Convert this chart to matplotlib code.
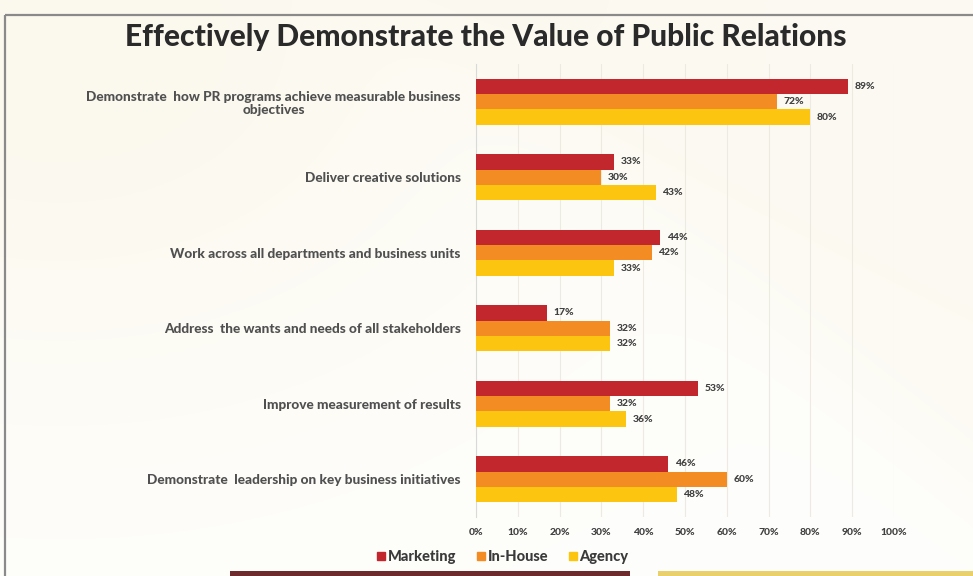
import numpy as np
import matplotlib
matplotlib.use("Agg")
import matplotlib.pyplot as plt
from matplotlib.patches import Rectangle
from matplotlib.lines import Line2D

# Survey data (share of respondents)
categories = [
    "Demonstrate  how PR programs achieve measurable business\nobjectives",
    "Deliver creative solutions",
    "Work across all departments and business units",
    "Address  the wants and needs of all stakeholders",
    "Improve measurement of results",
    "Demonstrate  leadership on key business initiatives",
]
marketing = [89, 33, 44, 17, 53, 46]
in_house = [72, 30, 42, 32, 32, 60]
agency = [80, 43, 33, 32, 36, 48]
series_names = ["Marketing", "In-House", "Agency"]
x_ticks = [0, 10, 20, 30, 40, 50, 60, 70, 80, 90, 100]

colors = ["#c1272d", "#f28c23", "#fcc510"]
text_dark = "#404040"
FONT = "Lato"

W, H = 973, 576
fig = plt.figure(figsize=(W / 100, H / 100), dpi=100)

# Soft cream slide background
bg = fig.add_axes([0, 0, 1, 1], zorder=-10)
yy, xx = np.mgrid[0:H, 0:W].astype(float)
base = np.array([254, 254, 252]) / 255.0
cream = np.array([251, 247, 234]) / 255.0
light = np.array([252, 250, 242]) / 255.0
corner = np.exp(-(((xx - 60) / 520) ** 2 + ((yy - 40) / 380) ** 2))
# upper-right region, separated by a soft diagonal
d = ((xx - 470) * 420 - (yy - 60) * 500) / np.hypot(420, 500)
upper = 1 / (1 + np.exp(-d / 30))
img = base[None, None, :] * np.ones((H, W, 1))
img = img + (light - base)[None, None, :] * upper[..., None]
img = img + (cream - img) * corner[..., None] * 0.8
bg.imshow(img, extent=[0, W, H, 0], aspect="auto", interpolation="bilinear")
bg.set_xlim(0, W)
bg.set_ylim(H, 0)
bg.axis("off")

# slide frame and footer strips
bg.plot([5, W], [15, 15], color="#8a8a8a", lw=1.6, solid_capstyle="butt")
bg.plot([5, 5], [15, H], color="#8a8a8a", lw=1.6, solid_capstyle="butt")
bg.add_patch(Rectangle((230, 571), 400, 6, color="#6e2b2e", lw=0))
bg.add_patch(Rectangle((658, 571), 315, 6, color="#ead06a", lw=0))

fig.text(486 / W, 1 - 37 / H, "Effectively Demonstrate the Value of Public Relations",
         ha="center", va="center", fontsize=21.5, fontweight="black",
         family=FONT, color="#2a2a2a")

ax = fig.add_axes([476 / W, 1 - 517 / H, 418 / W, 453 / H])
ax.patch.set_alpha(0)

y = np.arange(len(categories))
bh = 0.205
for k, (vals, name) in enumerate(zip([marketing, in_house, agency], series_names)):
    pos = y + (k - 1) * bh
    ax.barh(pos, vals, height=bh, color=colors[k], label=name, zorder=3)
    for p, v in zip(pos, vals):
        ax.text(v + 1.6, p, f"{v}%", ha="left", va="center", fontsize=7.5,
                fontweight="black", family=FONT, color=text_dark, zorder=4)

ax.set_xlim(0, 100)
ax.set_ylim(len(categories) - 0.5, -0.5)
ax.set_xticks(x_ticks)
ax.set_xticklabels([f"{t}%" for t in x_ticks], fontsize=7.5, fontweight="black",
                   family=FONT, color=text_dark)
ax.tick_params(axis="x", length=0, pad=8)
ax.set_yticks(y)
ax.set_yticklabels(categories, fontsize=9.8, fontweight="black", family=FONT,
                   color="#505050", multialignment="center", linespacing=1.15)
ax.tick_params(axis="y", length=0, pad=11)
ax.grid(axis="x", color="#edeae2", lw=0.8, zorder=0)
for s in ["top", "right", "bottom"]:
    ax.spines[s].set_visible(False)
ax.spines["left"].set_color("#d9d9d9")
ax.spines["left"].set_linewidth(0.8)

handles = [Line2D([], [], marker="s", ls="none", markersize=5.5,
                  markerfacecolor=c, markeredgecolor=c) for c in colors]
leg = fig.legend(handles, series_names, loc="center", bbox_to_anchor=(502 / W, 1 - 557 / H),
                 ncol=3, frameon=False, handletextpad=0.05, columnspacing=1.3,
                 handlelength=0.8, prop={"family": FONT, "weight": "black", "size": 10.5})
for t in leg.get_texts():
    t.set_color("#3a3a3a")

fig.savefig("out.png", dpi=100)
